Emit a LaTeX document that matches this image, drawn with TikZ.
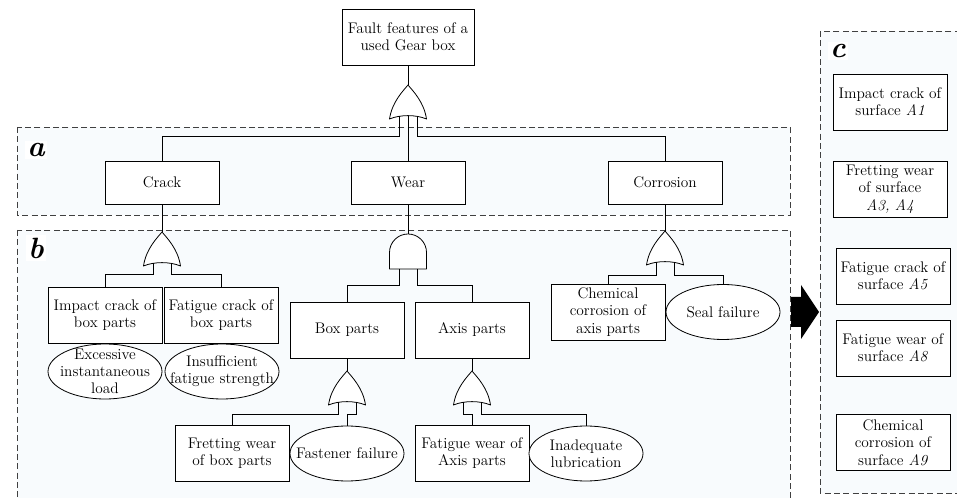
\documentclass[tikz,border=0pt]{standalone}
\usepackage{tikz}
\usetikzlibrary{shapes,positioning}

\definecolor{regionfill}{HTML}{F8FBFD}

\tikzset{
  event/.style={draw, fill=white, inner sep=0pt, align=center,
    minimum width=85.5pt, minimum height=42pt,
    font=\fontsize{11.5}{13}\selectfont},
  midevent/.style={event, minimum height=32.25pt},
  basic/.style={ellipse, draw, fill=white, inner xsep=-12pt, inner ysep=-7pt,
    align=center, minimum width=85.5pt, minimum height=41.25pt,
    font=\fontsize{11.5}{13}\selectfont},
  region/.style={draw=black!75, fill=regionfill, dash pattern=on 4.5pt off 2.5pt},
  regionlabel/.style={fill=white, inner sep=2pt,
    font=\fontsize{22}{22}\selectfont\bfseries\itshape},
  gate/.style={draw, fill=white, line join=round},
  % fault tree gates, drawn with the apex at the origin
  orgate/.pic={
    \draw[gate] (0,0) .. controls (5,6) and (16,17) .. (18.5,34)
      .. controls (8,29.5) and (-8,29.5) .. (-18.5,34)
      .. controls (-16,17) and (-5,6) .. (0,0) -- cycle;
    \coordinate (-out) at (0,0);
    \coordinate (-in1) at (-9,31.5);
    \coordinate (-mid) at (0,30.6);
    \coordinate (-in2) at (9,31.5);
  },
  andgate/.pic={
    \draw[gate] (-18.5,35) -- (-18.5,18.5) arc[start angle=180, end angle=360, radius=18.5]
      -- (18.5,35) -- cycle;
    \coordinate (-out) at (0,0);
    \coordinate (-in1) at (-9,35);
    \coordinate (-in2) at (9,35);
  }
}

\begin{document}
\begin{tikzpicture}[x=0.75pt, y=-0.75pt, line width=0.6pt]
  \useasboundingbox (0,0) rectangle (957,498);

  % regions
  \begin{scope}
    \clip (0,0) rectangle (957,498);
    \draw[region] (17,127) rectangle (790,215);
    \draw[region] (17,230) rectangle (790,505);
    \draw[region] (820,31) rectangle (965,493);
  \end{scope}
  \node[regionlabel] (la) at (36,150) {a};
  \node[regionlabel] (lb) at (36,248) {b};
  \node[regionlabel] (lc) at (838,51) {c};

  % top event
  \node[event, minimum width=99pt] (root) at (408,37) {Fault features of a\\used Gear box};
  \pic (g0) at (408,85) {orgate};

  % region a
  \node[midevent] (crack) at (162,182.5) {Crack};
  \node[midevent] (wear) at (408,182.5) {Wear};
  \node[midevent] (corrosion) at (665,182.5) {Corrosion};

  \draw (root) -- (g0-out);
  \draw (g0-in1) -- (g0-in1 |- 0,136) -| (crack);
  \draw (g0-mid) -- (wear);
  \draw (g0-in2) -- (g0-in2 |- 0,136) -| (corrosion);

  % region b, crack
  \pic (g1) at (162,232) {orgate};
  \node[event] (impact) at (105,315) {Impact crack of\\box parts};
  \node[event] (fatcrack) at (221,315) {Fatigue crack of\\box parts};
  \node[basic] (excess) at (105,371.5) {Excessive\\instantaneous\\load};
  \node[basic] (insuff) at (222,371.5) {Insufficient\\fatigue strength};

  \draw (crack) -- (g1-out);
  \draw (g1-in1) -- (g1-in1 |- 0,274) -| (impact);
  \draw (g1-in2) -- (g1-in2 |- 0,274) -| (fatcrack);

  % region b, wear
  \pic (g2) at (408,234) {andgate};
  \node[event] (boxparts) at (347,330) {Box parts};
  \node[event] (axisparts) at (472,330) {Axis parts};

  \draw (wear) -- (g2-out);
  \draw (g2-in1) -- (g2-in1 |- 0,285) -| (boxparts);
  \draw (g2-in2) -- (g2-in2 |- 0,285) -| (axisparts);

  \pic (g3) at (347,371) {orgate};
  \node[event] (fretting) at (232,453) {Fretting wear\\of box parts};
  \node[basic] (fastener) at (347,453.5) {Fastener failure};

  \draw (boxparts) -- (g3-out);
  \draw (g3-in1) -- (g3-in1 |- 0,414) -| (fretting);
  \draw (g3-in2) -- (g3-in2 |- 0,414) -| (fastener);

  \pic (g4) at (472,371) {orgate};
  \node[event] (fatwear) at (472,453) {Fatigue wear of\\Axis parts};
  \node[basic] (lubric) at (586,453.5) {Inadequate\\lubrication};

  \draw (axisparts) -- (g4-out);
  \draw (g4-in1) -- (g4-in1 |- 0,414) -| (fatwear);
  \draw (g4-in2) -- (g4-in2 |- 0,414) -| (lubric);

  % region b, corrosion
  \pic (g5) at (665,231) {orgate};
  \node[event] (chemical) at (608,312) {Chemical\\corrosion of\\axis parts};
  \node[basic] (seal) at (723,312) {Seal failure};

  \draw (corrosion) -- (g5-out);
  \draw (g5-in1) -- (g5-in1 |- 0,275) -| (chemical);
  \draw (g5-in2) -- (g5-in2 |- 0,275) -| (seal);

  % arrow to region c
  \fill (791,297) -- (801,297) -- (801,285) -- (819,312) -- (801,339)
    -- (801,327) -- (791,327) -- cycle;

  % region c
  \node[event] (c1) at (890,102) {Impact crack of\\surface \textit{A1}};
  \node[event] (c2) at (890,189) {Fretting wear\\of surface\\\textit{A3, A4}};
  \node[event] (c3) at (893,276) {Fatigue crack of\\surface \textit{A5}};
  \node[event] (c4) at (893,348) {Fatigue wear of\\surface \textit{A8}};
  \node[event] (c5) at (893,442.5) {Chemical\\corrosion of\\surface \textit{A9}};
\end{tikzpicture}
\end{document}
